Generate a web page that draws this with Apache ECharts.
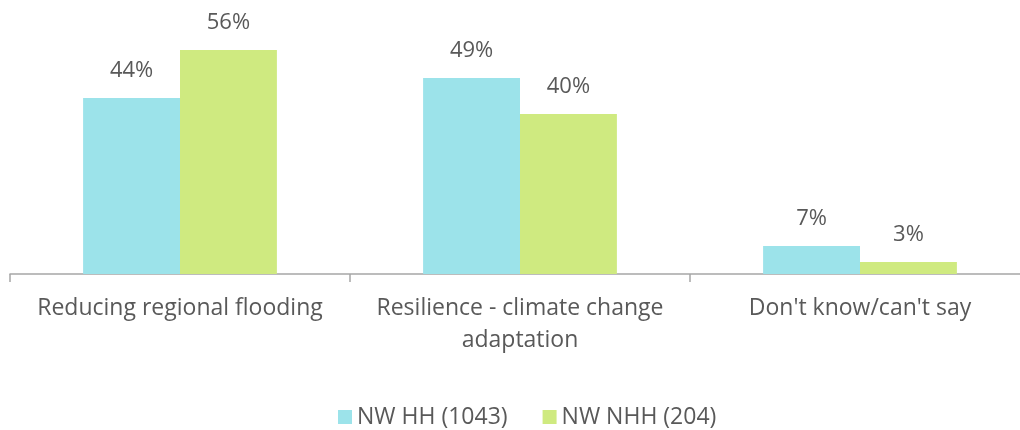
<!DOCTYPE html>
<html>
<head>
<meta charset="utf-8">
<script src="https://cdn.jsdelivr.net/npm/echarts@6/dist/echarts.min.js"></script>
<style>
  html, body { margin: 0; padding: 0; background: #fff; }
  #chart { width: 1020px; height: 430px; }
</style>
</head>
<body>
<div id="chart"></div>
<script>
// data
const categories = [
    "Reducing regional flooding",
    "Resilience - climate change\nadaptation",
    "Don't know/can't say",
];
const seriesNames = ["NW HH (1043)", "NW NHH (204)"];
const hhValues = [44, 49, 7];
const nhhValues = [56, 40, 3];

const textColor = "#595959";
const fontFamily = "'Open Sans', sans-serif";

const chart = echarts.init(document.getElementById("chart"));
chart.setOption({
    animation: false,
    color: ["#9CE3EA", "#CFEA80"],
    textStyle: { fontFamily: fontFamily, color: textColor },
    grid: {
        left: 10,
        right: -10,
        top: 34,
        bottom: 156,
        containLabel: false,
        outerBoundsMode: "none",
    },
    legend: {
        data: seriesNames,
        top: 400,
        left: 333,
        itemWidth: 14,
        itemHeight: 14,
        itemGap: 35,
        icon: "rect",
        textStyle: { fontSize: 23, lineHeight: 24, color: textColor, fontFamily: fontFamily },
    },
    xAxis: {
        type: "category",
        data: categories,
        axisLine: { lineStyle: { color: "#A6A6A6", width: 1.5 } },
        axisTick: { show: true, length: 8, lineStyle: { color: "#A6A6A6", width: 1.5 } },
        axisLabel: {
            fontSize: 23,
            color: textColor,
            lineHeight: 32,
            margin: 18,
            interval: 0,
        },
    },
    yAxis: {
        type: "value",
        min: 0,
        max: 60,
        show: false,
        splitLine: { show: false },
    },
    series: [
        {
            name: seriesNames[0],
            type: "bar",
            data: hhValues,
            barGap: "0%",
            barCategoryGap: "43%",
            label: {
                show: true,
                position: "top",
                distance: 16,
                formatter: "{c}%",
                fontSize: 22,
                color: textColor,
            },
        },
        {
            name: seriesNames[1],
            type: "bar",
            data: nhhValues,
            barGap: "0%",
            barCategoryGap: "43%",
            label: {
                show: true,
                position: "top",
                distance: 16,
                formatter: "{c}%",
                fontSize: 22,
                color: textColor,
            },
        },
    ],
});
</script>
</body>
</html>
